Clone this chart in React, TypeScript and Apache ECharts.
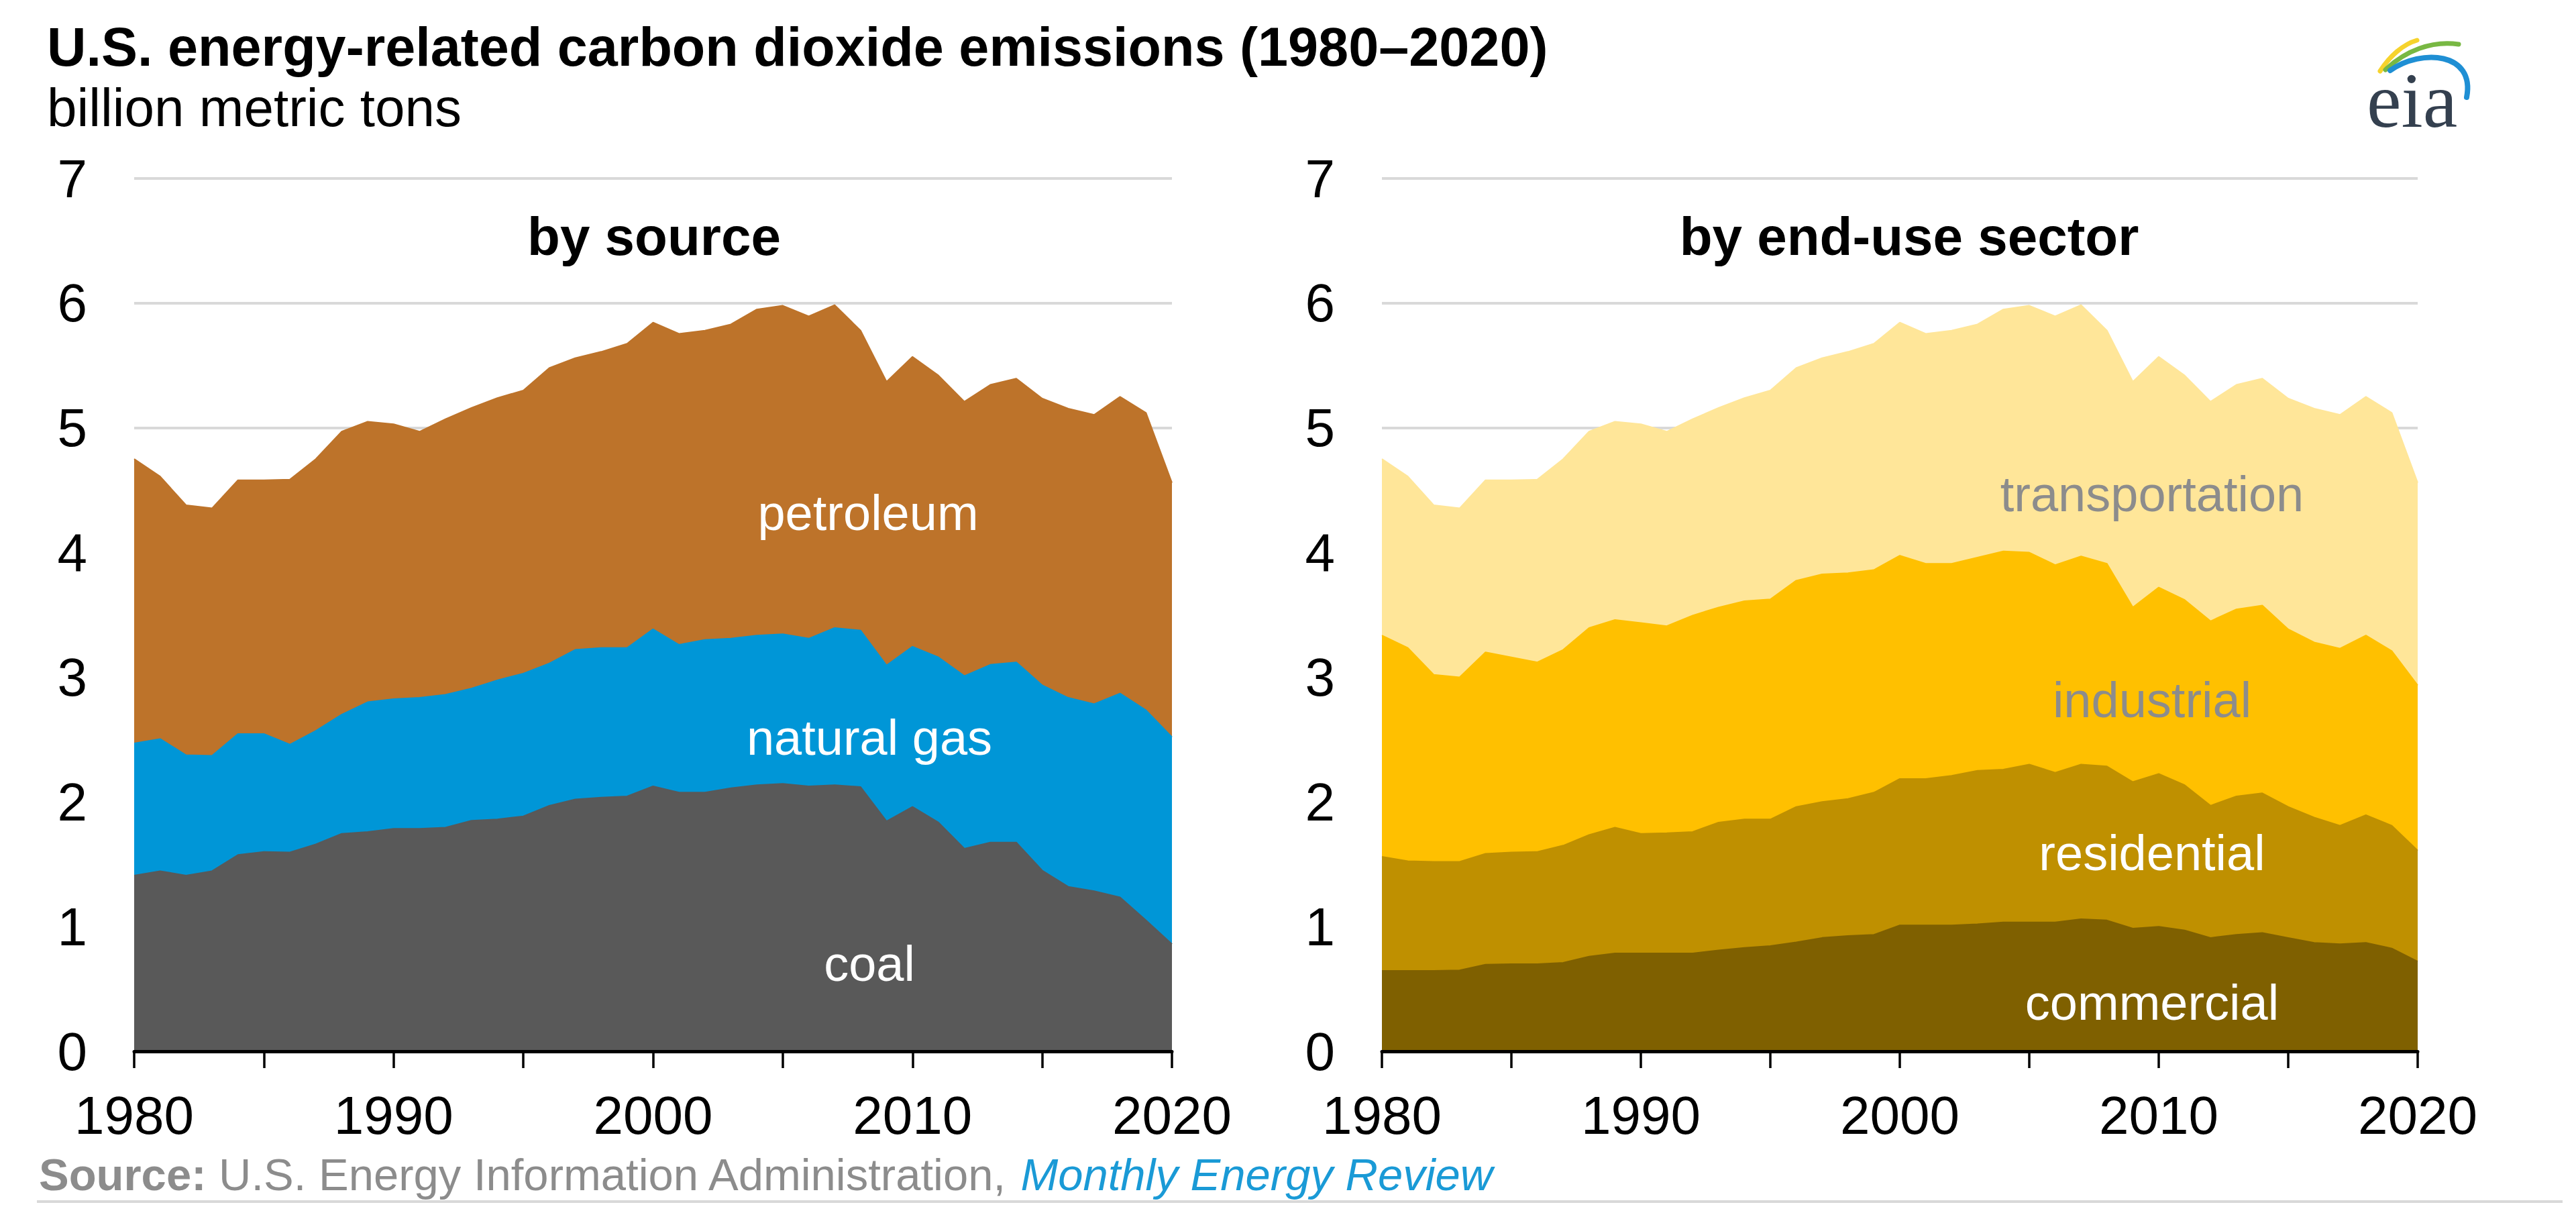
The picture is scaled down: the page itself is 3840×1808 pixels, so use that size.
import React, { useEffect, useRef } from "react";
import * as echarts from "echarts";

const years = [
  "1980", "1981", "1982", "1983", "1984", "1985", "1986", "1987", "1988", "1989",
  "1990", "1991", "1992", "1993", "1994", "1995", "1996", "1997", "1998", "1999",
  "2000", "2001", "2002", "2003", "2004", "2005", "2006", "2007", "2008", "2009",
  "2010", "2011", "2012", "2013", "2014", "2015", "2016", "2017", "2018", "2019",
  "2020",
];

// by source (billion metric tons)
const coal = [
  1.41, 1.445, 1.41, 1.445, 1.575, 1.6, 1.595, 1.66, 1.745, 1.76,
  1.785, 1.785, 1.795, 1.85, 1.86, 1.885, 1.97, 2.02, 2.035, 2.045,
  2.125, 2.075, 2.075, 2.11, 2.135, 2.145, 2.125, 2.135, 2.12, 1.845,
  1.96, 1.835, 1.625, 1.675, 1.675, 1.45, 1.32, 1.285, 1.235, 1.05,
  0.86,
];
const naturalGas = [
  1.06, 1.06, 0.965, 0.925, 0.97, 0.945, 0.865, 0.91, 0.955, 1.04,
  1.04, 1.05, 1.065, 1.06, 1.115, 1.145, 1.14, 1.2, 1.2, 1.19,
  1.26, 1.185, 1.225, 1.2, 1.2, 1.2, 1.185, 1.26, 1.255, 1.25,
  1.285, 1.325, 1.385, 1.425, 1.445, 1.485, 1.515, 1.5, 1.635, 1.685,
  1.66,
];
const petroleum = [
  2.28, 2.105, 2.005, 1.985, 2.035, 2.035, 2.125, 2.18, 2.27, 2.25,
  2.205, 2.135, 2.21, 2.25, 2.265, 2.27, 2.37, 2.34, 2.375, 2.44,
  2.46, 2.495, 2.48, 2.52, 2.615, 2.635, 2.585, 2.59, 2.405, 2.275,
  2.325, 2.26, 2.2, 2.245, 2.275, 2.3, 2.32, 2.32, 2.38, 2.385,
  2.04,
];

// by end-use sector (billion metric tons)
const commercial = [
  0.645, 0.645, 0.645, 0.65, 0.695, 0.7, 0.7, 0.71, 0.76, 0.785,
  0.785, 0.785, 0.785, 0.81, 0.83, 0.845, 0.875, 0.91, 0.925, 0.935,
  1.01, 1.01, 1.01, 1.02, 1.035, 1.035, 1.035, 1.06, 1.05, 0.985,
  1.0, 0.97, 0.91, 0.935, 0.95, 0.91, 0.87, 0.86, 0.87, 0.825,
  0.72,
];
const residential = [
  0.915, 0.88, 0.875, 0.87, 0.89, 0.895, 0.9, 0.94, 0.975, 1.01,
  0.96, 0.965, 0.975, 1.025, 1.03, 1.015, 1.085, 1.09, 1.1, 1.14,
  1.175, 1.175, 1.2, 1.23, 1.225, 1.265, 1.2, 1.24, 1.235, 1.175,
  1.225, 1.165, 1.06, 1.11, 1.12, 1.05, 1.005, 0.95, 1.025, 0.985,
  0.89,
];
const industrial = [
  1.775, 1.71, 1.5, 1.48, 1.615, 1.565, 1.52, 1.57, 1.66, 1.665,
  1.69, 1.66, 1.735, 1.725, 1.75, 1.765, 1.815, 1.825, 1.81, 1.785,
  1.79, 1.725, 1.7, 1.71, 1.75, 1.7, 1.665, 1.67, 1.625, 1.4,
  1.495, 1.485, 1.48, 1.5, 1.505, 1.425, 1.405, 1.42, 1.44, 1.4,
  1.325,
];
const transportation = [
  1.415, 1.375, 1.36, 1.355, 1.38, 1.42, 1.465, 1.53, 1.575, 1.59,
  1.595, 1.56, 1.575, 1.6, 1.63, 1.675, 1.705, 1.735, 1.775, 1.815,
  1.87, 1.845, 1.87, 1.87, 1.94, 1.98, 1.995, 2.015, 1.87, 1.81,
  1.85, 1.8, 1.76, 1.8, 1.82, 1.85, 1.875, 1.875, 1.915, 1.91,
  1.625,
];

const TITLE = "U.S. energy-related carbon dioxide emissions (1980\u20132020)";
const SUBTITLE = "billion metric tons";
const PANEL_TITLES = ["by source", "by end-use sector"];
const SOURCE_BOLD = "Source:";
const SOURCE_TEXT = "U.S. Energy Information Administration, ";
const SOURCE_LINK = "Monthly Energy Review";

const FONT = '"Liberation Sans", Arial, Helvetica, sans-serif';

const COLORS = {
  coal: "#595959",
  gas: "#0096d7",
  petroleum: "#bd732a",
  commercial: "#7f6000",
  residential: "#bf9000",
  industrial: "#ffc000",
  transportation: "#ffe699",
};

function areaSeries(name: string, data: number[], color: string, idx: number, stack: string) {
  return {
    name,
    type: "line",
    xAxisIndex: idx,
    yAxisIndex: idx,
    stack,
    data,
    symbol: "none",
    showSymbol: false,
    smooth: false,
    lineStyle: { width: 2, color },
    itemStyle: { color },
    areaStyle: { color, opacity: 1 },
    emphasis: { disabled: true },
    silent: true,
  };
}

function txt(text: string, x: number, y: number, size: number, color: string, weight: string = "normal", align: string = "left") {
  return {
    type: "text",
    x,
    y,
    silent: true,
    z: 100,
    style: {
      text,
      fill: color,
      font: `${weight} ${size}px ${FONT}`,
      fontFamily: FONT,
      fontSize: size,
      fontWeight: weight,
      align,
      textAlign: align,
      verticalAlign: "middle",
      textVerticalAlign: "middle",
    },
  };
}

export default function App() {
  const ref = useRef<HTMLDivElement>(null);

  useEffect(() => {
    if (!ref.current) return;
    const chart = echarts.init(ref.current, null, { renderer: "svg" });

    const xAxis = [0, 1].map((i) => ({
      type: "category",
      gridIndex: i,
      data: years,
      boundaryGap: false,
      z: 10,
      axisLine: { show: true, onZero: false, lineStyle: { color: "#000000", width: 5 } },
      axisTick: {
        show: true,
        interval: (index: number) => index % 5 === 0,
        length: 25,
        lineStyle: { color: "#000000", width: 3.5 },
      },
      axisLabel: {
        interval: (index: number) => index % 10 === 0,
        fontSize: 80,
        fontFamily: FONT,
        color: "#000000",
        margin: 55,
      },
      splitLine: { show: false },
    }));

    const yAxis = [0, 1].map((i) => ({
      type: "value",
      gridIndex: i,
      min: 0,
      max: 7,
      interval: 1,
      axisLine: { show: false },
      axisTick: { show: false },
      axisLabel: { fontSize: 80, fontFamily: FONT, color: "#000000", margin: 70 },
      splitLine: { show: true, lineStyle: { color: "#d9d9d9", width: 4 } },
    }));

    const option = {
      animation: false,
      backgroundColor: "#ffffff",
      textStyle: { fontFamily: FONT },
      grid: [
        { left: 200, right: 2093, top: 266, bottom: 241 },
        { left: 2060, right: 236, top: 266, bottom: 241 },
      ],
      xAxis,
      yAxis,
      series: [
        areaSeries("coal", coal, COLORS.coal, 0, "source"),
        areaSeries("natural gas", naturalGas, COLORS.gas, 0, "source"),
        areaSeries("petroleum", petroleum, COLORS.petroleum, 0, "source"),
        areaSeries("commercial", commercial, COLORS.commercial, 1, "sector"),
        areaSeries("residential", residential, COLORS.residential, 1, "sector"),
        areaSeries("industrial", industrial, COLORS.industrial, 1, "sector"),
        areaSeries("transportation", transportation, COLORS.transportation, 1, "sector"),
      ],
      graphic: [
        txt(TITLE, 70, 70, 81, "#000000", "bold"),
        txt(SUBTITLE, 70, 160, 80, "#000000"),
        txt(PANEL_TITLES[0], 975, 352, 80, "#000000", "bold", "center"),
        txt(PANEL_TITLES[1], 2846, 352, 80, "#000000", "bold", "center"),
        txt("petroleum", 1294, 764, 74, "#ffffff", "normal", "center"),
        txt("natural gas", 1296, 1099, 74, "#ffffff", "normal", "center"),
        txt("coal", 1296, 1436, 74, "#ffffff", "normal", "center"),
        txt("transportation", 3208, 736, 74, "#8c8c8c", "normal", "center"),
        txt("industrial", 3208, 1043, 74, "#8c8c8c", "normal", "center"),
        txt("residential", 3208, 1271, 74, "#ffffff", "normal", "center"),
        txt("commercial", 3208, 1494, 74, "#ffffff", "normal", "center"),
        {
          type: "text",
          x: 58,
          y: 1750,
          silent: true,
          z: 100,
          style: {
            text: `{b|${SOURCE_BOLD}} {r|${SOURCE_TEXT}}{i|${SOURCE_LINK}}`,
            font: `normal 67px ${FONT}`,
            fontFamily: FONT,
            fontSize: 67,
            align: "left",
            textAlign: "left",
            verticalAlign: "middle",
            textVerticalAlign: "middle",
            fill: "#8c8c8c",
            rich: {
              b: { fontFamily: FONT, fontSize: 67, fontWeight: "bold", fill: "#8c8c8c", color: "#8c8c8c" },
              r: { fontFamily: FONT, fontSize: 67, fill: "#8c8c8c", color: "#8c8c8c" },
              i: { fontFamily: FONT, fontSize: 67, fontStyle: "italic", fill: "#1a9ad6", color: "#1a9ad6" },
            },
          },
        },
        {
          type: "line",
          silent: true,
          shape: { x1: 55, y1: 1791, x2: 3820, y2: 1791 },
          style: { stroke: "#d9d9d9", lineWidth: 4 },
        },
        // eia logo
        {
          type: "text",
          x: 3528,
          y: 150,
          silent: true,
          style: {
            text: "eia",
            font: `normal 116px "Liberation Serif", "Times New Roman", serif`,
            fontFamily: '"Liberation Serif", "Times New Roman", serif',
            fontSize: 116,
            fill: "#34404f",
            align: "left",
            textAlign: "left",
            verticalAlign: "middle",
            textVerticalAlign: "middle",
          },
        },
        {
          type: "bezierCurve",
          silent: true,
          shape: { x1: 3548, y1: 106, x2: 3603, y2: 60, cpx1: 3562, cpy1: 84, cpx2: 3582, cpy2: 66 },
          style: { stroke: "#f6d32d", lineWidth: 7, fill: null, lineCap: "round" },
        },
        {
          type: "bezierCurve",
          silent: true,
          shape: { x1: 3556, y1: 104, x2: 3665, y2: 66, cpx1: 3585, cpy1: 76, cpx2: 3625, cpy2: 60 },
          style: { stroke: "#78b843", lineWidth: 7, fill: null, lineCap: "round" },
        },
        {
          type: "bezierCurve",
          silent: true,
          shape: { x1: 3563, y1: 105, x2: 3677, y2: 145, cpx1: 3610, cpy1: 72, cpx2: 3690, cpy2: 78 },
          style: { stroke: "#1f8fd4", lineWidth: 8, fill: null, lineCap: "round" },
        },
      ],
    };

    chart.setOption(option as any);
    return () => {
      chart.dispose();
    };
  }, []);

  return (
    <div
      ref={ref}
      style={{ position: "fixed", left: 0, top: 0, width: "3840px", height: "1808px", background: "#ffffff" }}
    />
  );
}
